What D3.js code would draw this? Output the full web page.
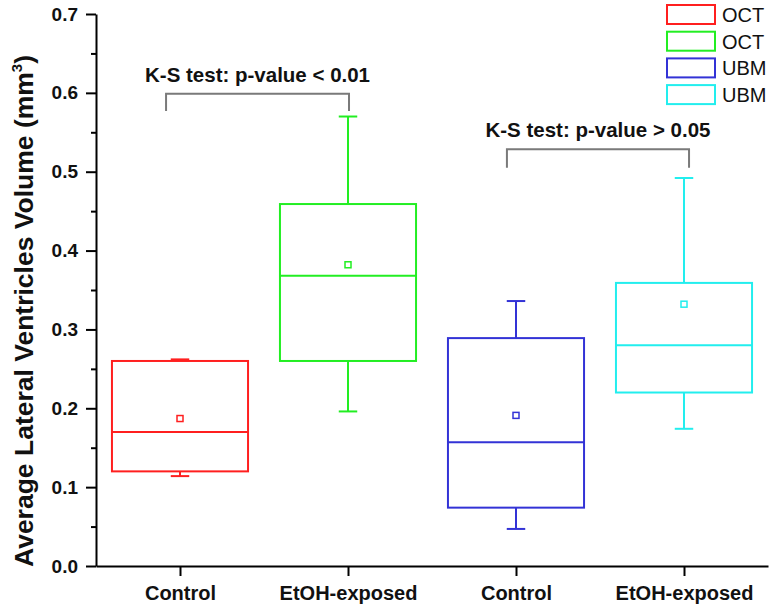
<!DOCTYPE html>
<html><head><meta charset="utf-8">
<script src="https://cdn.jsdelivr.net/npm/d3@7"></script>
<style>body{margin:0;background:#fff}svg{display:block}</style>
</head><body>
<svg id="chart" width="780" height="608"></svg>
<script>
const categories = ["Control", "EtOH-exposed", "Control", "EtOH-exposed"];
const methods = ["OCT", "OCT", "UBM", "UBM"];
const colors = ["#ff1f1f", "#22ee22", "#3333d6", "#22eeee"];
const whiskerLow = [0.114, 0.196, 0.047, 0.174];
const q1 = [0.120, 0.260, 0.074, 0.220];
const median = [0.170, 0.368, 0.157, 0.280];
const q3 = [0.260, 0.459, 0.289, 0.359];
const whiskerHigh = [0.262, 0.570, 0.336, 0.492];
const means = [0.187, 0.382, 0.191, 0.332];
const yTicks = [0, 0.1, 0.2, 0.3, 0.4, 0.5, 0.6, 0.7];
const yMinorTicks = [0.05, 0.15, 0.25, 0.35, 0.45, 0.55, 0.65];
const tests = [
  {label: "K-S test: p-value < 0.01", from: 0.917, to: 2.006, top: 0.599, leg: 0.577},
  {label: "K-S test: p-value > 0.05", from: 2.946, to: 4.03, top: 0.5285, leg: 0.505}
];

const svg = d3.select("#chart");
const x = d3.scaleLinear().domain([0.5, 4.5]).range([96, 768]);
const y = d3.scaleLinear().domain([0, 0.7]).range([566, 14]);
const boxHalf = 0.405, capHalf = 0.055;
const sans = "Liberation Sans, Arial, sans-serif";

// minor y ticks
svg.append("g").attr("transform", "translate(96,0)")
  .call(d3.axisLeft(y).tickValues(yMinorTicks).tickSize(5).tickFormat(""))
  .call(g => g.select(".domain").remove())
  .call(g => g.selectAll("line").attr("stroke", "#000").attr("stroke-width", 2));
// major y axis
svg.append("g").attr("transform", "translate(96,0)")
  .call(d3.axisLeft(y).tickValues(yTicks).tickSize(10).tickSizeOuter(0).tickPadding(8).tickFormat(d3.format(".1f")))
  .call(g => g.select(".domain").attr("stroke", "#000").attr("stroke-width", 2))
  .call(g => g.selectAll("line").attr("stroke", "#000").attr("stroke-width", 2))
  .call(g => g.selectAll("text").attr("font-family", sans).attr("font-weight", "bold")
     .attr("font-size", 19).attr("fill", "#111"));
// x axis
svg.append("g").attr("transform", "translate(0,566)")
  .call(d3.axisBottom(x).tickValues([1, 2, 3, 4]).tickSize(10).tickSizeOuter(0).tickPadding(10)
     .tickFormat((d, i) => categories[i]))
  .call(g => g.select(".domain").attr("stroke", "#000").attr("stroke-width", 2))
  .call(g => g.selectAll("line").attr("stroke", "#000").attr("stroke-width", 2))
  .call(g => g.selectAll("text").attr("font-family", sans).attr("font-weight", "bold")
     .attr("font-size", 20).attr("fill", "#111"));

// y label
const yl = svg.append("text")
  .attr("transform", "translate(33,311) rotate(-90)")
  .attr("text-anchor", "middle")
  .attr("font-family", sans).attr("font-weight", "bold")
  .attr("font-size", 26.5).attr("fill", "#111");
yl.append("tspan").text("Average Lateral Ventricles Volume (mm");
yl.append("tspan").attr("font-size", 15).attr("dy", -11).text("3");
yl.append("tspan").attr("dy", 11).text(")");

// boxes
const data = categories.map((c, i) => ({i, pos: i + 1, color: colors[i]}));
const g = svg.append("g").selectAll("g").data(data).join("g")
  .attr("stroke", d => d.color).attr("fill", "none").attr("stroke-width", 2);
g.append("line").attr("x1", d => x(d.pos)).attr("x2", d => x(d.pos))
  .attr("y1", d => y(whiskerHigh[d.i])).attr("y2", d => y(q3[d.i]));
g.append("line").attr("x1", d => x(d.pos)).attr("x2", d => x(d.pos))
  .attr("y1", d => y(q1[d.i])).attr("y2", d => y(whiskerLow[d.i]));
g.append("line").attr("x1", d => x(d.pos - capHalf)).attr("x2", d => x(d.pos + capHalf))
  .attr("y1", d => y(whiskerHigh[d.i])).attr("y2", d => y(whiskerHigh[d.i]));
g.append("line").attr("x1", d => x(d.pos - capHalf)).attr("x2", d => x(d.pos + capHalf))
  .attr("y1", d => y(whiskerLow[d.i])).attr("y2", d => y(whiskerLow[d.i]));
g.append("rect").attr("x", d => x(d.pos - boxHalf)).attr("width", d => x(d.pos + boxHalf) - x(d.pos - boxHalf))
  .attr("y", d => y(q3[d.i])).attr("height", d => y(q1[d.i]) - y(q3[d.i]));
g.append("line").attr("x1", d => x(d.pos - boxHalf)).attr("x2", d => x(d.pos + boxHalf))
  .attr("y1", d => y(median[d.i])).attr("y2", d => y(median[d.i]));
g.append("rect").attr("x", d => x(d.pos) - 3).attr("y", d => y(means[d.i]) - 3)
  .attr("width", 6).attr("height", 6).attr("stroke-width", 1.5);

// brackets
const tg = svg.append("g").selectAll("g").data(tests).join("g");
tg.append("path")
  .attr("d", d => `M${x(d.from)},${y(d.leg)}V${y(d.top)}H${x(d.to)}V${y(d.leg)}`)
  .attr("fill", "none").attr("stroke", "#7a7a7a").attr("stroke-width", 2);
tg.append("text").attr("x", d => (x(d.from) + x(d.to)) / 2).attr("y", d => y(d.top) - 12)
  .attr("text-anchor", "middle").attr("font-family", sans).attr("font-weight", "bold")
  .attr("font-size", 20.5).attr("fill", "#111").text(d => d.label);

// legend
const lg = svg.append("g").selectAll("g").data(data).join("g")
  .attr("transform", d => `translate(667,${5 + d.i * 26.7})`);
lg.append("rect").attr("width", 48).attr("height", 19).attr("fill", "none")
  .attr("stroke", d => d.color).attr("stroke-width", 2);
lg.append("text").attr("x", 55).attr("y", 17).attr("font-family", sans)
  .attr("font-size", 20).attr("fill", "#111").text(d => methods[d.i]);
</script>
</body></html>
